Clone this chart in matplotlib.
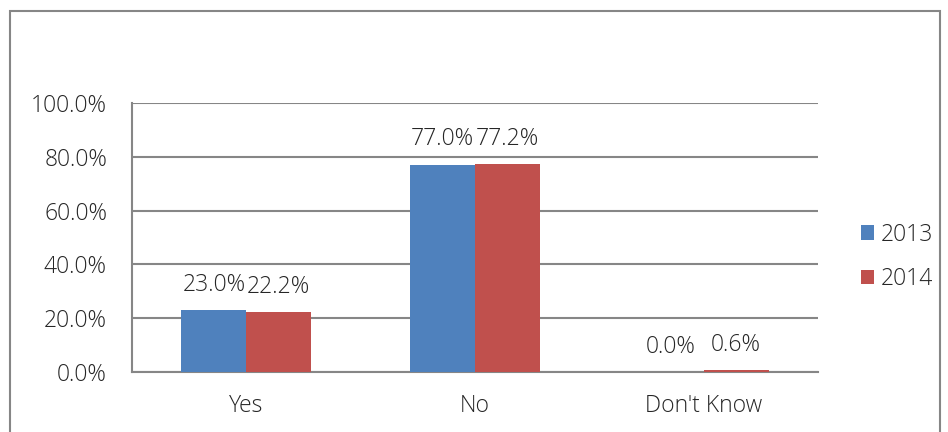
import matplotlib.pyplot as plt
import numpy as np
from matplotlib.patches import Rectangle

categories = ["Yes", "No", "Don't Know"]
series_names = ["2013", "2014"]
values_2013 = [23.0, 77.0, 0.0]
values_2014 = [22.2, 77.2, 0.6]
yticks = [0, 20, 40, 60, 80, 100]

blue = "#4F81BD"
red = "#C0504D"
grid_col = "#868686"
text_col = "#262626"
fs = 16.5

plt.rcParams['font.family'] = ['Open Sans', 'DejaVu Sans']
plt.rcParams['font.weight'] = 'light'

W, H = 948, 432
fig = plt.figure(figsize=(W / 100, H / 100), dpi=100)
ax = fig.add_axes([132 / W, 1 - 372 / H, (818 - 132) / W, (372 - 103) / H])

# outer chart frame
fig.patches.append(Rectangle((10 / W, -0.05), 930 / W, 1 - 11 / H + 0.05,
                             transform=fig.transFigure, fill=False,
                             edgecolor=grid_col, linewidth=1.5))

x = np.arange(len(categories))
bw = 65 / 228.7
b1 = ax.bar(x - bw / 2, values_2013, bw, color=blue, label=series_names[0], zorder=3)
b2 = ax.bar(x + bw / 2, values_2014, bw, color=red, label=series_names[1], zorder=3)

for bars, vals in [(b1, values_2013), (b2, values_2014)]:
    for r, v in zip(bars, vals):
        ax.text(r.get_x() + r.get_width() / 2, v + 5.0, f"{v:.1f}%",
                ha="center", va="bottom", fontsize=fs, color=text_col)

ax.set_xlim(-0.5, 2.5)
ax.set_ylim(0, 100)
ax.set_yticks(yticks)
ax.set_yticklabels([f"{t:.1f}%" for t in yticks], fontsize=fs, color=text_col)
ax.set_xticks(x)
ax.set_xticklabels(categories, fontsize=fs, color=text_col)
ax.tick_params(axis="x", length=0, pad=16)
ax.tick_params(axis="y", length=0, pad=18)
ax.yaxis.grid(True, color=grid_col, linewidth=1.5, zorder=0)
for s in ["top", "right"]:
    ax.spines[s].set_visible(False)
for s in ["left", "bottom"]:
    ax.spines[s].set_color(grid_col)
    ax.spines[s].set_linewidth(1.5)

leg = fig.legend(loc="upper left", bbox_to_anchor=(840 / W, 1 - 202 / H),
                 frameon=False, fontsize=fs, handlelength=0.6, handleheight=0.6,
                 handletextpad=0.3, labelspacing=0.9)
for t in leg.get_texts():
    t.set_color(text_col)

fig.savefig("out.png", dpi=100)
